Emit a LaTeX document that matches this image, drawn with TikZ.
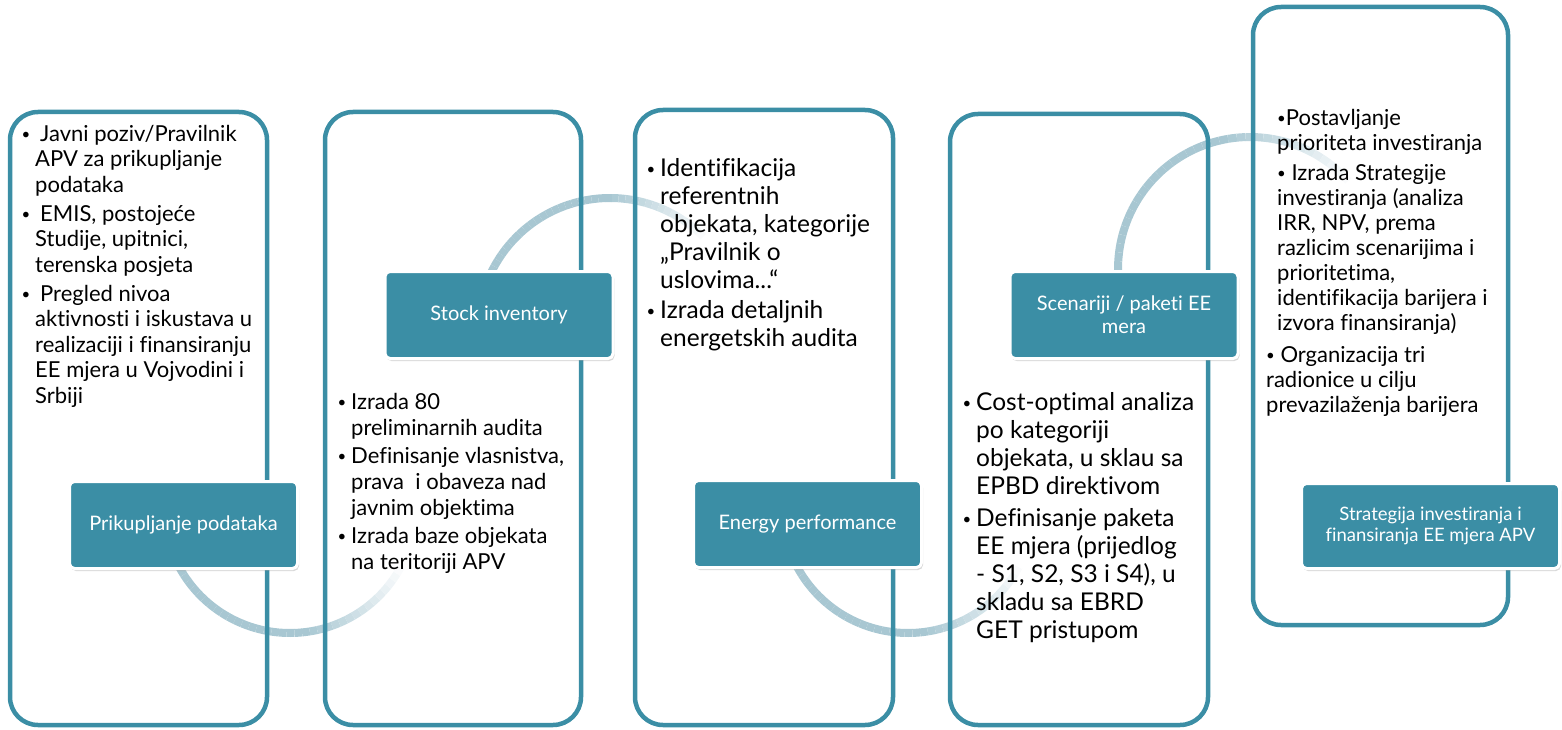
\documentclass[tikz,border=0pt]{standalone}
\usepackage{fontspec}
\setmainfont{Lato}[Ligatures=NoCommon]
\usetikzlibrary{positioning,calc,shadows}
\definecolor{tealc}{RGB}{59,142,165}
\definecolor{arcc}{RGB}{168,199,210}
\newcommand{\bdot}{\raisebox{1.5pt}{\fontsize{15}{15}\selectfont\textbullet}}
\newcommand{\bul}{\makebox[0pt][r]{\bdot\hspace{5pt}}}

\begin{document}
\begin{tikzpicture}[x=1pt,y=-1pt,
		panel/.style={draw=tealc,line width=4.5pt,rounded corners=28pt,inner sep=0pt},
		tab/.style={fill=tealc,draw=white,line width=3pt,rounded corners=5pt,text=white,align=center,
			font=\fontsize{20}{23}\selectfont,minimum width=228pt,minimum height=87pt,
			drop shadow={shadow xshift=1.5pt,shadow yshift=-2.5pt,opacity=0.3}},
		lab/.style={anchor=north west,align=left,inner sep=0pt},
		flow/.style={line width=8pt,draw=arcc}
		]
		\useasboundingbox (0,0) rectangle (1562,730);
		
		% --- centres of the connecting arcs
		\coordinate (o1) at (290,507);
		\coordinate (o2) at (610,330);
		\coordinate (o3) at (908,507);
		\coordinate (o4) at (1250,269);
		
		% --- arcs, fading out towards their end
		\foreach \o/\r/\s/\e in {o1/126/165/25, o2/132/200/318, o3/126/165/25, o4/132/168/322} {
			\foreach \i in {1,...,40} {
				\pgfmathsetmacro\a{\s+(\e-\s)*(\i-1)/40}
				\pgfmathsetmacro\b{(\e-\s)/40}
				\pgfmathsetmacro\p{\i<=24 ? 100 : 100*(40-\i)/16}
				\draw[flow,draw=arcc!\p!white] ($(\o)+(\a:\r)$) arc[start angle=\a,delta angle=\b,radius=\r];
			}
		}
		
		% --- the five panels
		\node[panel,minimum width=257pt,minimum height=613pt] (box1) at (138.5,418.5) {};
		\node[panel,minimum width=256pt,minimum height=613pt] (box2) at (453,418.5) {};
		\node[panel,minimum width=258pt,minimum height=615pt] (box3) at (764,417.5) {};
		\node[panel,minimum width=258pt,minimum height=611pt] (box4) at (1079,419.5) {};
		\node[panel,minimum width=255pt,minimum height=618pt] (box5) at (1380.5,316) {};
		
		% --- tabs
		\node[tab] (tab1) at (183.5,525) {Prikupljanje podataka};
		\node[tab] (tab2) at (499,315) {Stock inventory};
		\node[tab] (tab3) at (807.5,524) {Energy performance};
		\node[tab] (tab4) at (1124,315) {Scenariji / paketi EE\\mera};
		\node[tab,minimum width=258pt,minimum height=85pt,font=\fontsize{18.5}{21}\selectfont] (tab5) at (1430.5,526)
		{Strategija investiranja i\\finansiranja EE mjera APV};
		
		% --- panel texts
		\node[lab,font=\fontsize{22}{25.5}\selectfont] (txt1) at (35,123) {\strut\bul\hspace{5pt}Javni poziv/Pravilnik\\
			APV za prikupljanje\\ podataka\\[3.5pt]
			\bul\hspace{5pt}EMIS, postojeće\\ Studije, upitnici,\\ terenska posjeta\\[3.5pt]
			\bul\hspace{5pt}Pregled nivoa\\ aktivnosti i iskustava u\\ realizaciji i finansiranju\\
			EE mjera u Vojvodini i\\ Srbiji};
		
		\node[lab,font=\fontsize{22}{26}\selectfont] (txt2) at (351,391) {\strut\bul Izrada 80\\
			preliminarnih audita\\[2pt]
			\bul Definisanje vlasnistva,\\ prava~ i obaveza nad\\ javnim objektima\\[2pt]
			\bul Izrada baze objekata\\ na teritoriji APV};
		
		\node[lab,font=\fontsize{24.5}{28}\selectfont] (txt3) at (660,156.5) {\strut\bul Identifikacija\\
			referentnih\\ objekata, kategorije\\ „Pravilnik o\\ uslovima...“\\[2pt]
			\bul Izrada detaljnih\\ energetskih audita};
		
		\node[lab,font=\fontsize{24.5}{28}\selectfont] (txt4) at (976,390.5) {\strut\bul Cost-optimal analiza\\
			po kategoriji\\ objekata, u sklau sa\\ EPBD direktivom\\[4pt]
			\bul Definisanje paketa\\ EE mjera (prijedlog\\ - S1, S2, S3 i S4), u\\ skladu sa EBRD\\ GET pristupom};
		
		\node[lab,font=\fontsize{22}{25}\selectfont] (txt5) at (1266,107.5) {\strut\hspace{11pt}\bdot Postavljanje\\
			\hspace{11pt}prioriteta investiranja\\[5pt]
			\hspace{11pt}\bdot\ Izrada Strategije\\ \hspace{11pt}investiranja (analiza\\ \hspace{11pt}IRR, NPV, prema\\
			\hspace{11pt}razlicim scenarijima i\\ \hspace{11pt}prioritetima,\\ \hspace{11pt}identifikacija barijera i\\
			\hspace{11pt}izvora finansiranja)\\[7pt]
			\bdot\ Organizacija tri\\ radionice u cilju\\ prevazilaženja barijera};
		
	\end{tikzpicture}
\end{document}
